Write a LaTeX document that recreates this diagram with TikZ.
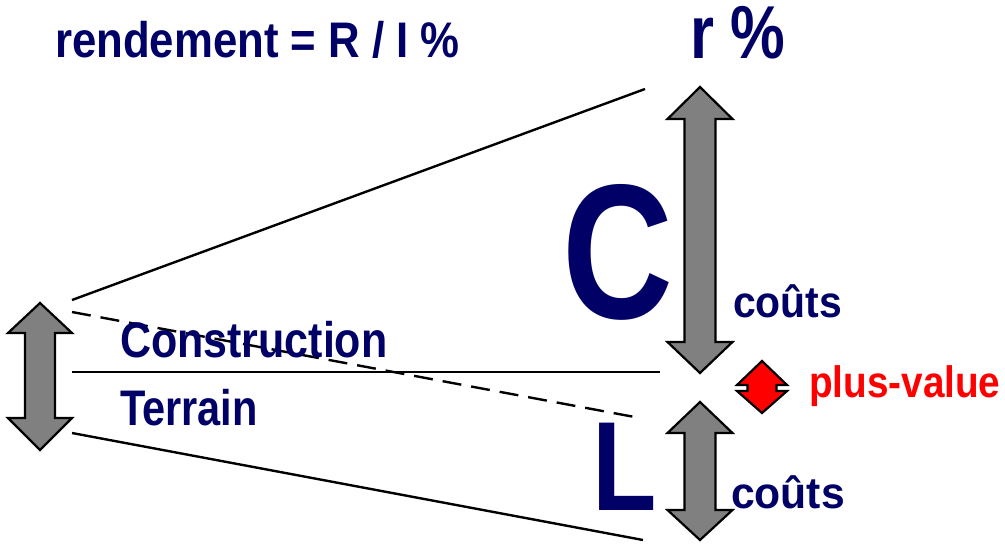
\documentclass[tikz,border=0pt]{standalone}
\usepackage{fontspec}
\setmainfont{Liberation Sans}
\definecolor{navy}{RGB}{0,0,102}
\definecolor{arrgray}{RGB}{128,128,128}
\newcommand{\txt}[3]{{\fontsize{#1}{#1}\selectfont\bfseries\scalebox{#2}[1]{#3}}}
% double arrow: x, ytop tip, ytop base, ybot base, ybot tip, shaft half, head half, fill
\newcommand{\dblarr}[8]{%
  \draw[arrowline, fill=#8]
    (#1,#2) -- (#1+#7,#3) -- (#1+#6,#3) -- (#1+#6,#4) -- (#1+#7,#4) --
    (#1,#5) -- (#1-#7,#4) -- (#1-#6,#4) -- (#1-#6,#3) -- (#1-#7,#3) -- cycle;}
\begin{document}
\begin{tikzpicture}[x=1pt,y=-1pt,
  lbl/.style={inner sep=0pt, outer sep=0pt, anchor=base west, text=navy},
  redlbl/.style={inner sep=0pt, outer sep=0pt, anchor=base west, text=red},
  thinline/.style={line width=2.4pt, black},
  dashline/.style={line width=2.4pt, black, dash pattern=on 19pt off 10pt},
  arrowline/.style={line width=2.2pt, black, line join=miter}]
\useasboundingbox (0,0) rectangle (1005,544);

% connector end points
\coordinate (uL) at (72,300);
\coordinate (uR) at (645,89);
\coordinate (dL) at (72,312);
\coordinate (dR) at (640,418);
\coordinate (hL) at (72,372);
\coordinate (hR) at (660,372);
\coordinate (bL) at (72,433);
\coordinate (bR) at (643,540);

\draw[thinline] (uL) -- (uR);
\draw[dashline] (dL) -- (dR);
\draw[thinline] (hL) -- (hR);
\draw[thinline] (bL) -- (bR);

% double arrows
\dblarr{40}{303}{333}{418}{450}{15}{32}{arrgray}
\dblarr{700}{87}{119}{342}{373}{15.5}{32.5}{arrgray}
\dblarr{700}{402}{433}{510}{540}{15.5}{32.5}{arrgray}
\dblarr{762}{361}{385}{391}{413}{14.5}{25}{red}

% texts
\node[lbl] (rend) at (55,57) {\txt{50}{0.875}{rendement = R / I \%}};
\node[lbl] (rpct) at (690,58) {\txt{75}{0.82}{r \%}};
\node[lbl] (bigC) at (562,318) {\txt{192}{0.8}{C}};
\node[lbl] (bigL) at (592,510) {\txt{127}{0.83}{L}};
\node[lbl] (cout1) at (733,317) {\txt{44}{0.93}{coûts}};
\node[lbl] (cout2) at (731,508) {\txt{44}{0.97}{coûts}};
\node[lbl] (constr) at (120,357) {\txt{50}{0.86}{Construction}};
\node[lbl] (terr) at (120,425) {\txt{50}{0.83}{Terrain}};
\node[redlbl] (plus) at (809,397) {\txt{44}{0.88}{plus-value}};
\end{tikzpicture}
\end{document}
